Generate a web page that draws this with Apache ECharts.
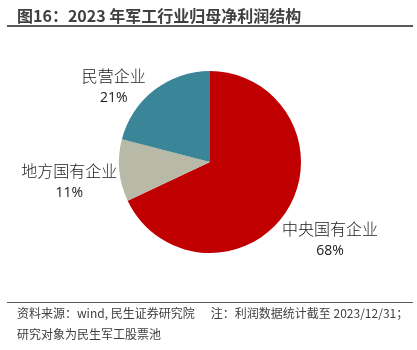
<!DOCTYPE html>
<html><head><meta charset="utf-8">
<script src="https://cdn.jsdelivr.net/npm/echarts@6/dist/echarts.min.js"></script>
<style>html,body{margin:0;padding:0;background:#fff}#c{width:417px;height:350px}</style>
</head><body><div id="c"></div>
<script>
var categories = ['中央国有企业', '地方国有企业', '民营企业'];
var values = [68, 11, 21];
var colors = ['#C00000', '#B8B9A6', '#3A8698'];
var titleText = '图16：2023 年军工行业归母净利润结构';
var sourceLine1 = '资料来源：wind, 民生证券研究院      注：利润数据统计截至 2023/12/31；';
var sourceLine2 = '研究对象为民生军工股票池';

var labelShift = [[-20, 23], [13, 10], [4, 6]];

var chart = echarts.init(document.getElementById('c'), null, {renderer: 'canvas'});
var cjk = '"Noto Sans CJK SC", "Noto Sans", sans-serif';
chart.setOption({
  animation: false,
  backgroundColor: '#fff',
  color: colors,
  graphic: [
    {type: 'text', left: 17, top: 8, style: {text: titleText, font: 'bold 16px ' + cjk, fill: '#404040'}},
    {type: 'rect', shape: {x: 7, y: 25, width: 406, height: 2}, style: {fill: '#595959'}},
    {type: 'rect', shape: {x: 7, y: 302, width: 406, height: 1}, style: {fill: '#595959'}},
    {type: 'text', left: 17, top: 307, style: {text: sourceLine1, font: '12px ' + cjk, fill: '#404040'}},
    {type: 'text', left: 17, top: 328, style: {text: sourceLine2, font: '12px ' + cjk, fill: '#404040'}}
  ],
  series: [{
    type: 'pie',
    center: [210, 162],
    radius: [0, 91],
    startAngle: 90,
    clockwise: true,
    data: categories.map(function (c, i) { return {name: c, value: values[i]}; }),
    labelLine: {show: false, length: 12, length2: 0},
    labelLayout: function (p) {
      var s = labelShift[p.dataIndex];
      return {dx: s[0], dy: s[1]};
    },
    label: {
      show: true,
      position: 'outside',
      overflow: 'none',
      edgeDistance: 0,
      formatter: function (p) { return '{a|' + p.name + '}\n{b|' + p.value + '%}'; },
      align: 'center',
      rich: {
        a: {fontFamily: cjk, fontSize: 16, fontWeight: 300, color: '#1a1a1a', lineHeight: 22, align: 'center'},
        b: {fontFamily: '"Open Sans", sans-serif', fontSize: 14, color: '#1a1a1a', lineHeight: 22, align: 'center'}
      }
    },
    itemStyle: {borderColor: '#fff', borderWidth: 0}
  }]
});
</script></body></html>
